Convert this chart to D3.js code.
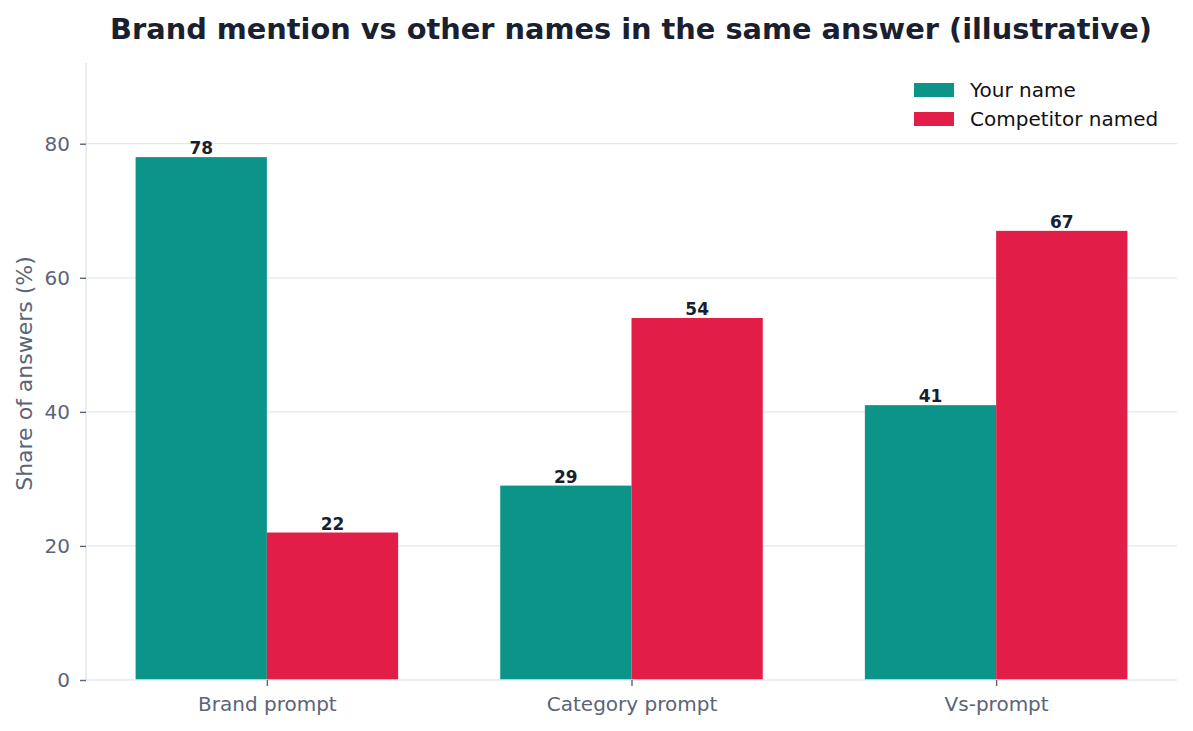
<!DOCTYPE html>
<html>
<head>
<meta charset="utf-8">
<script src="https://cdn.jsdelivr.net/npm/d3@7"></script>
<style>
  body { margin: 0; background: #fff; }
  svg { display: block; font-family: "DejaVu Sans", sans-serif; }
</style>
</head>
<body>
<svg id="plot"></svg>
<script>
const WIDTH = 1193;
const HEIGHT = 731;

const categories = ['Brand prompt', 'Category prompt', 'Vs-prompt'];
const seriesNames = ['Your name', 'Competitor named'];
const yourName = [78, 29, 41];
const competitor = [22, 54, 67];
const yTicks = [0, 20, 40, 60, 80];

const colors = ['#0d9488', '#e11d48'];

function start() {
    const margin = { top: 63, right: 16, bottom: 51, left: 86 };
    const barWidth = 0.36;

    let svg = d3.select('#plot')
        .attr('width', WIDTH)
        .attr('height', HEIGHT);

    let series = [yourName, competitor];
    let maxVal = d3.max(series.flat());

    // Index based x scale, like matplotlib's default margins
    let xScale = d3.scaleLinear()
        .domain([-barWidth - 0.136, categories.length - 1 + barWidth + 0.136])
        .range([margin.left, WIDTH - margin.right]);

    let yScale = d3.scaleLinear()
        .domain([0, maxVal * 1.18])
        .range([HEIGHT - margin.bottom, margin.top]);

    // Grid
    svg.append('g')
        .selectAll('line')
        .data(yTicks.filter(t => t > 0))
        .enter().append('line')
            .attr('x1', margin.left)
            .attr('x2', WIDTH - margin.right)
            .attr('y1', d => yScale(d))
            .attr('y2', d => yScale(d))
            .attr('stroke', '#e5e7eb')
            .attr('stroke-width', 1.2);

    // Bars
    series.forEach((vals, s) => {
        let offset = s === 0 ? -barWidth : 0;
        svg.append('g')
            .selectAll('rect')
            .data(vals)
            .enter().append('rect')
                .attr('x', (d, i) => xScale(i + offset))
                .attr('width', xScale(barWidth) - xScale(0))
                .attr('y', d => yScale(d))
                .attr('height', d => yScale(0) - yScale(d))
                .attr('fill', colors[s]);

        svg.append('g')
            .selectAll('text')
            .data(vals)
            .enter().append('text')
                .attr('x', (d, i) => xScale(i + offset + barWidth / 2))
                .attr('y', d => yScale(d) - 3)
                .attr('text-anchor', 'middle')
                .attr('font-size', 17)
                .attr('font-weight', 'bold')
                .attr('fill', '#1a1f2e')
                .text(d => d);
    });

    // Axes
    let xAxis = svg.append('g')
        .attr('transform', `translate(0, ${yScale(0)})`)
        .call(d3.axisBottom(xScale)
            .tickValues(d3.range(categories.length))
            .tickFormat(i => categories[i])
            .tickSize(6)
            .tickPadding(8));

    let yAxis = svg.append('g')
        .attr('transform', `translate(${margin.left}, 0)`)
        .call(d3.axisLeft(yScale)
            .tickValues(yTicks)
            .tickSize(6)
            .tickPadding(10));

    [xAxis, yAxis].forEach(a => {
        a.select('.domain').attr('stroke', '#e2e8f0').attr('stroke-width', 1.5);
        a.selectAll('.tick line').attr('stroke', '#5b6478').attr('stroke-width', 1.4);
        a.selectAll('.tick text')
            .attr('fill', '#5b6478')
            .attr('font-size', 20)
            .attr('font-family', '"DejaVu Sans", sans-serif');
    });
    xAxis.selectAll('.tick text').attr('dy', '0.85em');
    xAxis.select('.domain').attr('d', `M${margin.left},0H${WIDTH - margin.right}`);
    yAxis.select('.domain').attr('d', `M0,${yScale(0)}V${margin.top}`);

    // Y label
    svg.append('text')
        .attr('transform', `translate(32, ${(margin.top + yScale(0)) / 2 + 2}) rotate(-90)`)
        .attr('text-anchor', 'middle')
        .attr('font-size', 22)
        .attr('fill', '#5b6478')
        .text('Share of answers (%)');

    // Title
    svg.append('text')
        .attr('x', 631)
        .attr('y', 39)
        .attr('text-anchor', 'middle')
        .attr('font-size', 28.8)
        .attr('font-weight', 'bold')
        .attr('fill', '#1a2030')
        .text('Brand mention vs other names in the same answer (illustrative)');

    // Legend
    let legend = svg.append('g')
        .selectAll('g')
        .data(seriesNames)
        .enter().append('g')
            .attr('transform', (d, i) => `translate(914, ${83 + i * 29})`);
    legend.append('rect')
        .attr('width', 40)
        .attr('height', 14)
        .attr('fill', (d, i) => colors[i]);
    legend.append('text')
        .attr('x', 56)
        .attr('y', 7)
        .attr('dy', '0.35em')
        .attr('font-size', 20)
        .attr('fill', '#111')
        .text(d => d);
}

window.onload = start;
</script>
</body>
</html>
